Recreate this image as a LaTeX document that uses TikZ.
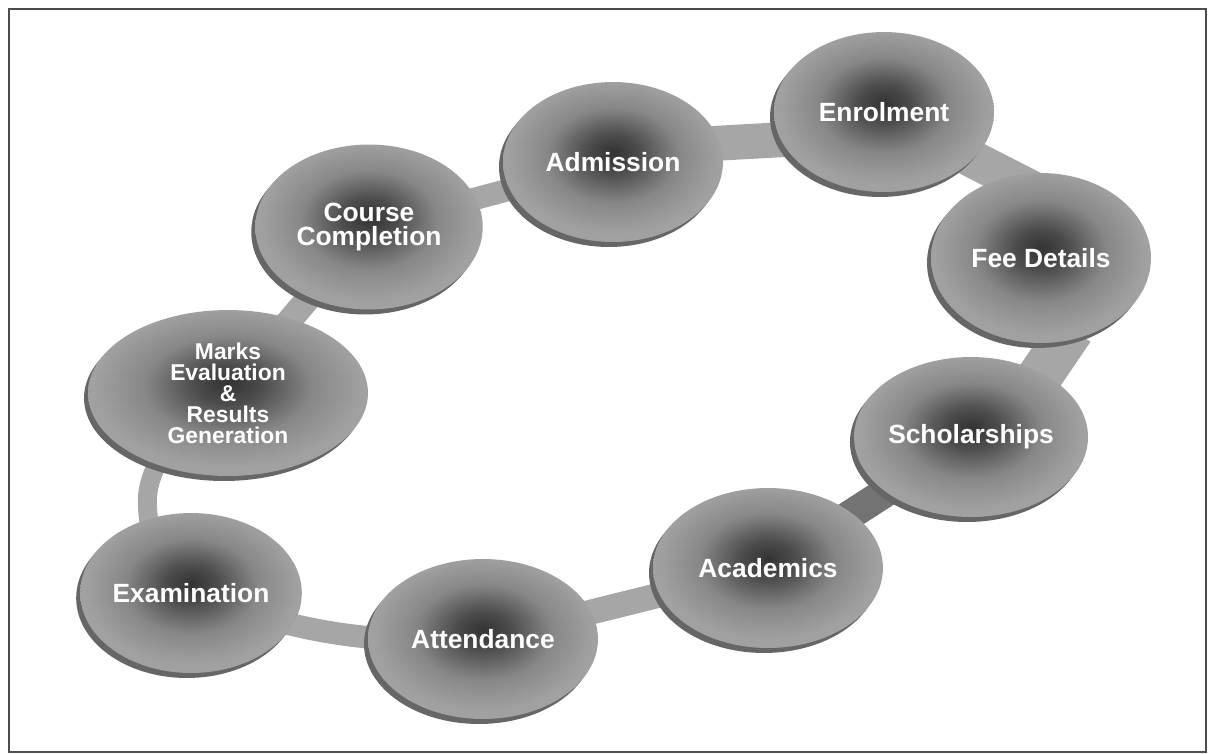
\documentclass[tikz,border=0pt]{standalone}
\usepackage{fontspec}
\setmainfont{Liberation Sans}
\usetikzlibrary{shapes.geometric, shadows, backgrounds, calc}

\pgfdeclareradialshading{disk}{\pgfpoint{0bp}{3bp}}{color(0bp)=(black!80); color(6bp)=(black!70); color(15bp)=(black!47); color(24bp)=(black!37); color(50bp)=(black!33)}

\begin{document}
\begin{tikzpicture}[x=0.02cm, y=-0.02cm,
  disk/.style={ellipse, shading=disk, inner sep=0pt, align=center,
    minimum width=4.4cm, minimum height=3.2cm, text=white,
    font=\bfseries\fontsize{15}{14}\selectfont,
    drop shadow={shadow xshift=-0.08cm, shadow yshift=-0.1cm, opacity=1, fill=black!60}},
  band/.style={draw=black!35, line width=0.5cm, shorten <=-0.3cm, shorten >=-0.3cm}]
  \useasboundingbox (0,0) rectangle (1208,754);
  \draw[black!70, line width=0.6pt] (9,9) rectangle (1206,752);
  % the stages
  \node[disk] (admission) at (613,162) {Admission};
  \node[disk] (enrolment) at (884,112) {Enrolment};
  \node[disk, minimum height=3.4cm] (fee) at (1041,258) {Fee Details};
  \node[disk] (scholar) at (971,437) {Scholarships};
  \node[disk, minimum width=4.6cm] (academics) at (768,568) {Academics};
  \node[disk, minimum width=4.6cm] (attendance) at (483,639) {Attendance};
  \node[disk] (exam) at (191,593) {Examination};
  \node[disk, minimum width=5.6cm, minimum height=3.32cm,
    font=\bfseries\fontsize{13}{12}\selectfont] (marks) at (228,393)
    {Marks\\Evaluation\\\&\\Results\\Generation};
  \node[disk, minimum width=4.55cm, minimum height=3.3cm] (course) at (369,227) {Course\\Completion};
  % the ring behind them
  \begin{scope}[on background layer]
    \draw[band, line width=0.7cm] (admission.10) -- (enrolment.195);
    \draw[band, line width=0.75cm, shorten >=0pt] (enrolment.-28) -- ($(fee.north)!0.25!(fee.center)$);
    \draw[band, line width=0.9cm] (fee.-75) -- (scholar.42);
    \draw[band, draw=black!55, line width=0.6cm] (scholar.center) -- (academics.center);
    \draw[band] (academics.center) -- (attendance.center);
    \draw[band, line width=0.45cm] (exam.center) to[bend right=12] (attendance.center);
    \draw[band, line width=0.38cm] (marks.225) to[bend right=20] (exam.120);
    \draw[band] (marks.center) -- (course.center);
    \draw[band, line width=0.45cm] (course.center) -- (admission.center);
  \end{scope}
\end{tikzpicture}
\end{document}
